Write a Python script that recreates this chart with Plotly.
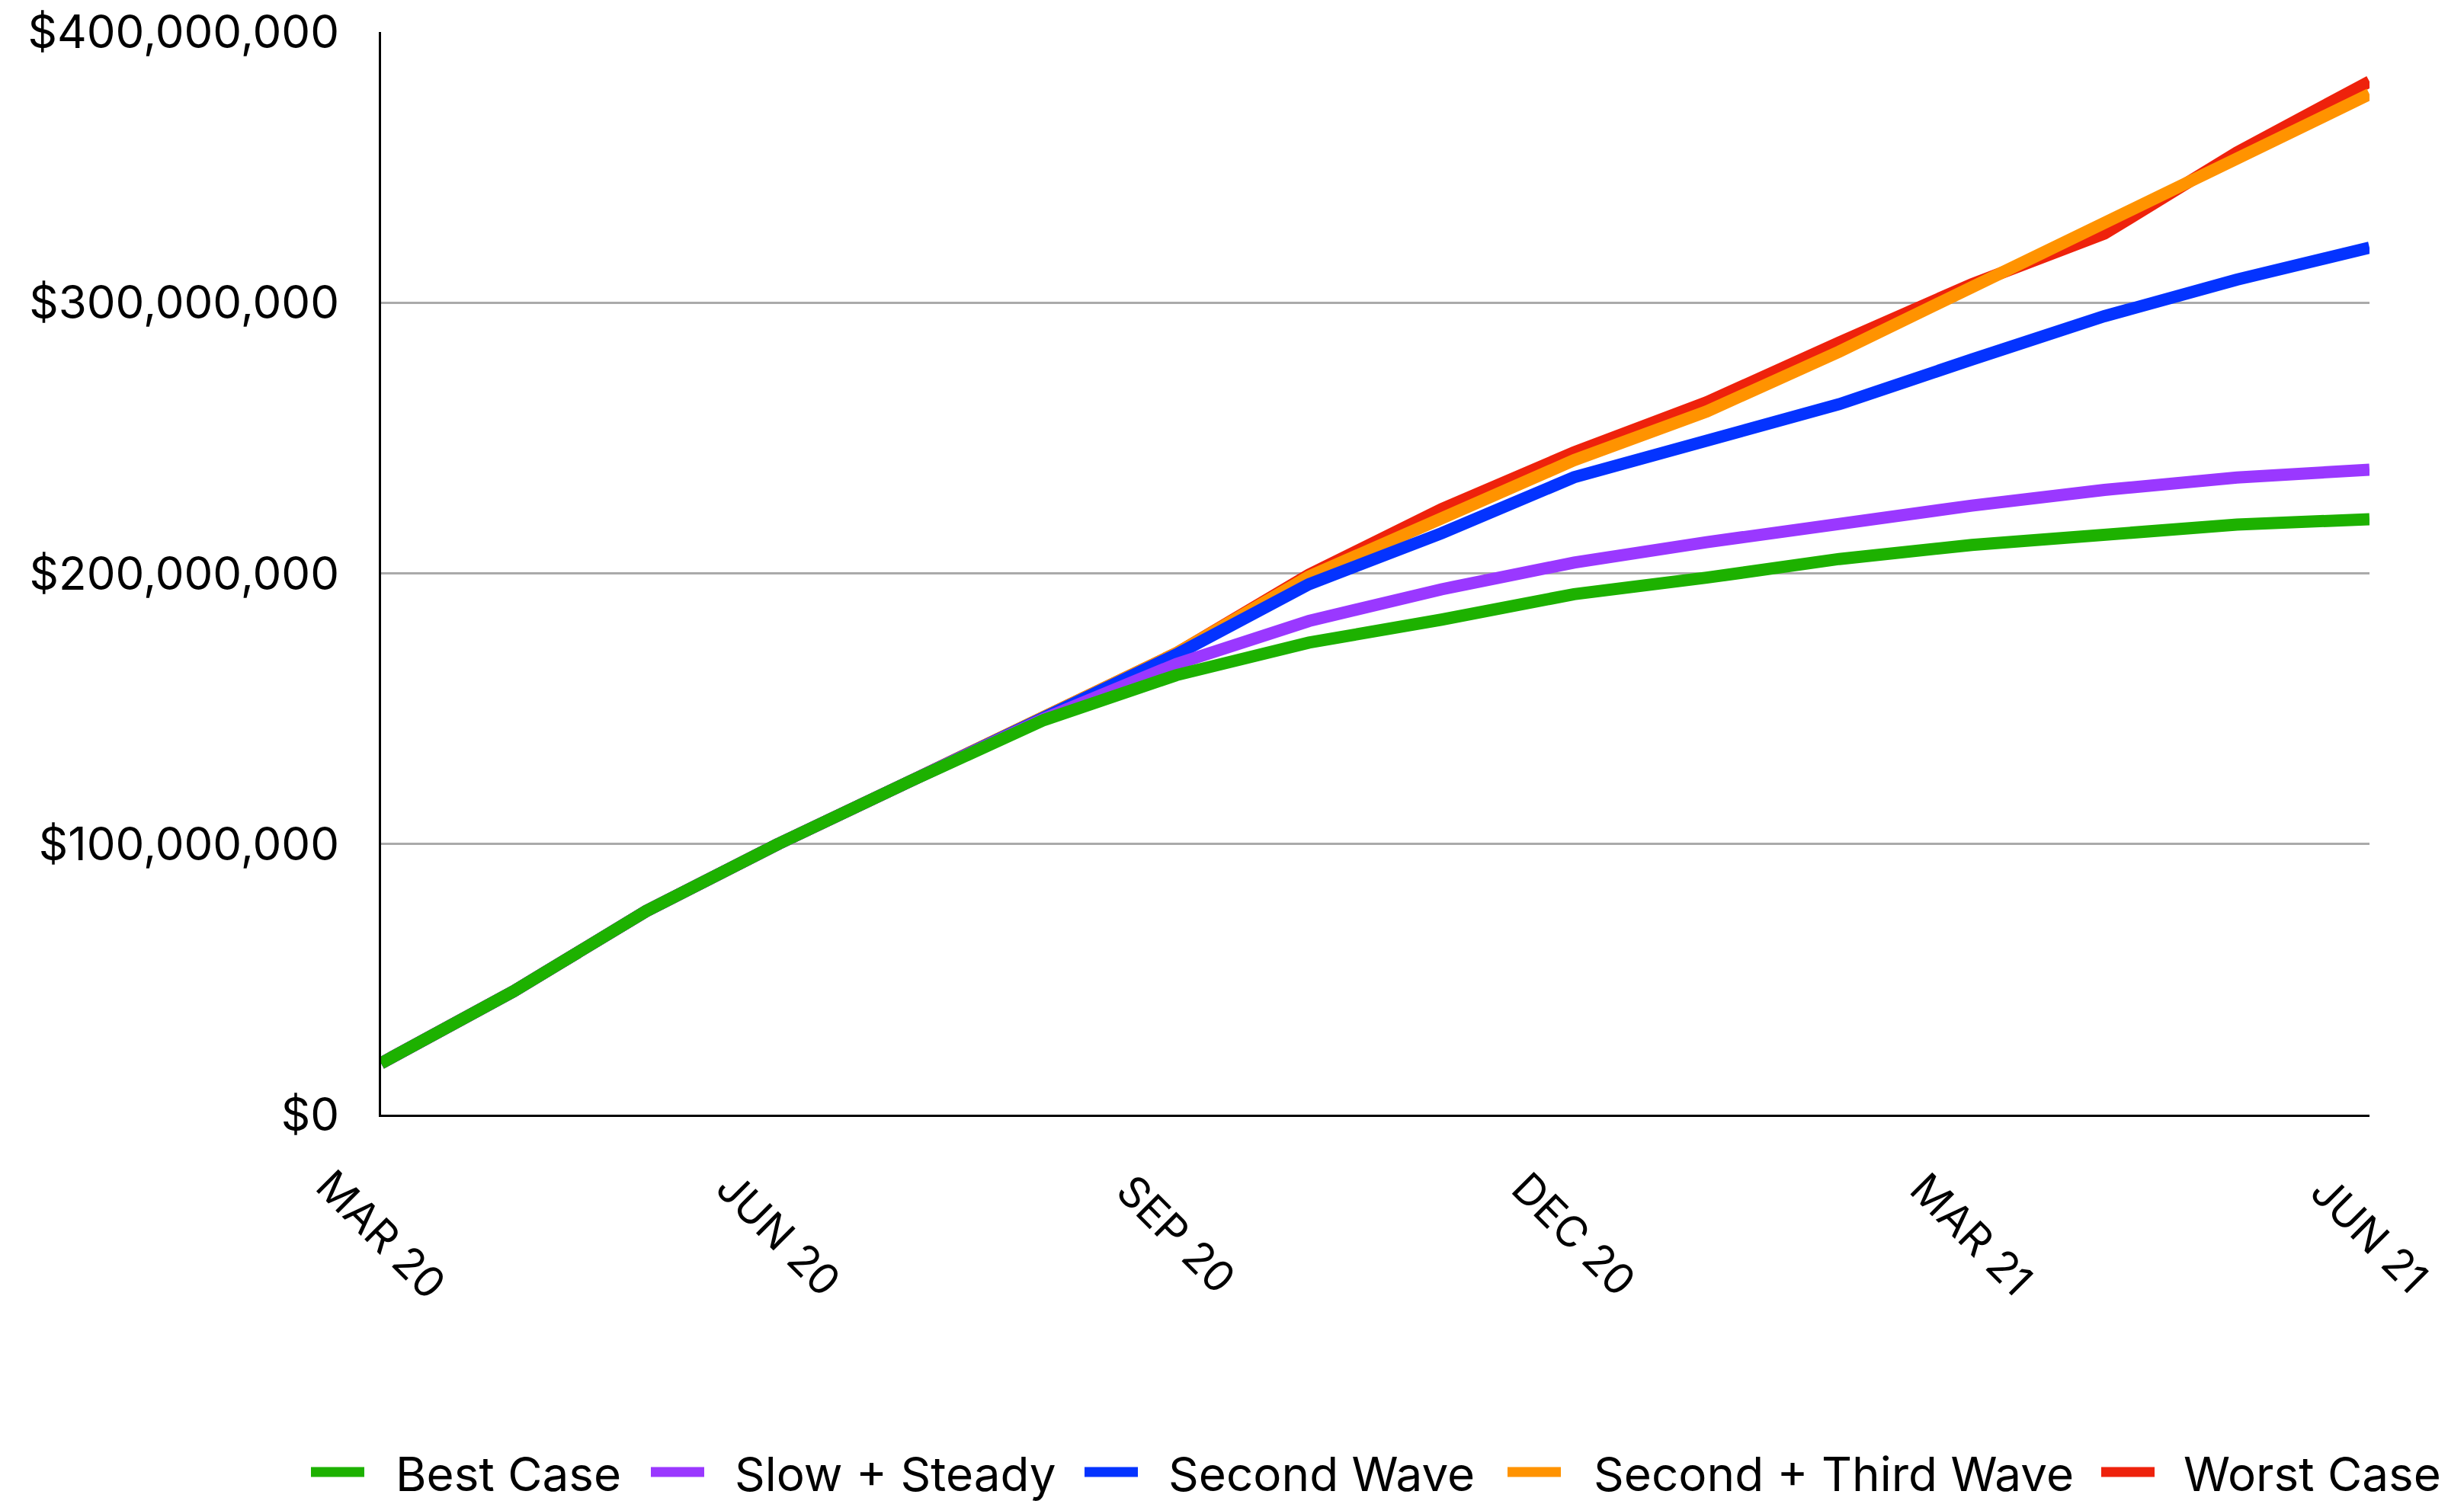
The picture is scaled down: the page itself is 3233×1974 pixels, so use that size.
import plotly.graph_objects as go

months = ["MAR 20", "APR 20", "MAY 20", "JUN 20", "JUL 20", "AUG 20", "SEP 20", "OCT 20",
          "NOV 20", "DEC 20", "JAN 21", "FEB 21", "MAR 21", "APR 21", "MAY 21", "JUN 21"]
tick_months = ["MAR 20", "JUN 20", "SEP 20", "DEC 20", "MAR 21", "JUN 21"]

# values in millions of dollars
best_case = [19.0, 45.6, 75.2, 100.1, 123.4, 145.8, 162.4, 174.4, 182.9, 192.3, 198.4, 205.3, 210.5, 214.5, 218.0, 220.0]
slow_steady = [19.0, 45.6, 75.2, 100.1, 123.4, 146.3, 166.5, 182.4, 194.1, 204.0, 211.5, 218.6, 225.0, 230.8, 235.4, 238.3]
second_wave = [19.0, 45.6, 75.2, 100.1, 123.4, 146.5, 170.0, 196.0, 214.8, 235.5, 249.3, 262.5, 279.0, 295.0, 308.5, 320.3]
second_third = [19.0, 45.6, 75.2, 100.1, 123.4, 146.8, 170.5, 198.8, 220.4, 241.8, 259.8, 281.9, 305.7, 329.4, 353.8, 377.0]
worst_case = [19.0, 45.6, 75.2, 100.1, 123.4, 146.8, 170.5, 199.5, 223.7, 244.7, 263.2, 285.3, 306.8, 325.5, 355.5, 381.7]

y_ticks = [0, 100e6, 200e6, 300e6, 400e6]

series_names = ["Best Case", "Slow + Steady", "Second Wave", "Second + Third Wave", "Worst Case"]
series_values = [best_case, slow_steady, second_wave, second_third, worst_case]
series_colors = ["#1DB100", "#9A38FF", "#0433FF", "#FF9300", "#EE220C"]

FONT = "Inter"
W, H = 3233, 1974
L, R, T, B = 500, 124, 42, 511
PW, PH = W - L - R, H - T - B


def px_x(px):
    return (px - L) / PW


def px_y(py):
    return (H - B - py) / PH


fig = go.Figure()
# draw worst case first so that best case sits on top, as in the reference
for name, vals, color in reversed(list(zip(series_names, series_values, series_colors))):
    fig.add_trace(go.Scatter(
        x=months, y=[v * 1e6 for v in vals], name=name, mode="lines",
        line=dict(color=color, width=16),
        hoverinfo="skip", showlegend=False,
    ))

for m in tick_months:
    fig.add_annotation(
        x=m, xref="x", y=px_y(1620), yref="paper", text=m, showarrow=False,
        textangle=45, xanchor="center", yanchor="middle",
        font=dict(family=FONT, size=56, color="black"),
    )

# legend row (swatch + label) laid out like the reference
legend_swatch_left = [408, 854, 1423, 1978, 2757]
legend_text_left = [517, 962, 1531, 2089, 2863]
legend_y = 1932
for name, color, sx, tx in zip(series_names, series_colors, legend_swatch_left, legend_text_left):
    fig.add_shape(
        type="line", xref="paper", yref="paper",
        x0=px_x(sx), x1=px_x(sx + 70), y0=px_y(legend_y), y1=px_y(legend_y),
        line=dict(color=color, width=13),
    )
    fig.add_annotation(
        x=px_x(tx), xref="paper", y=px_y(legend_y + 2), yref="paper", text=name,
        showarrow=False, xanchor="left", yanchor="middle",
        font=dict(family=FONT, size=62, color="black"),
    )

fig.update_layout(
    width=W, height=H,
    margin=dict(l=L, r=R, t=T, b=B, autoexpand=False),
    paper_bgcolor="white", plot_bgcolor="white",
    font=dict(family=FONT, size=56, color="black"),
    showlegend=False,
    xaxis=dict(
        type="category", range=[0, 15], showgrid=False, zeroline=False,
        showline=True, linecolor="black", linewidth=3,
        showticklabels=False, ticks="",
    ),
    yaxis=dict(
        range=[0, 400e6], tickvals=y_ticks, tickformat="$,.0f",
        showgrid=True, gridcolor="#AAAAAA", gridwidth=3, zeroline=False,
        showline=True, linecolor="black", linewidth=3, ticks="",
        ticklabelstandoff=40,
        tickfont=dict(family=FONT, size=60, color="black"),
    ),
)

fig.write_html("out.html")
